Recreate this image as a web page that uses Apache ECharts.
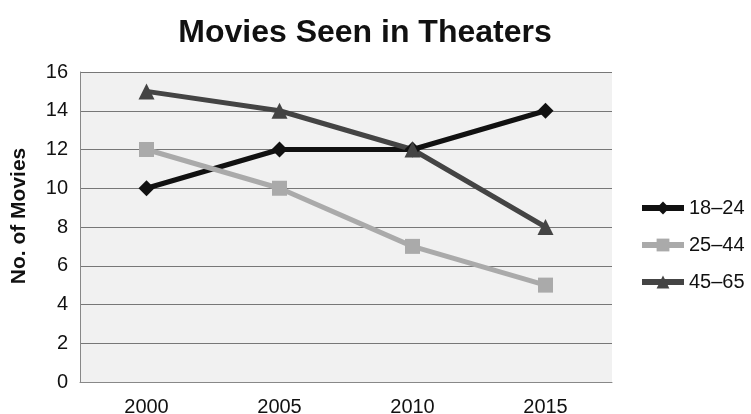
<!DOCTYPE html>
<html>
<head>
<meta charset="utf-8">
<script src="https://cdn.jsdelivr.net/npm/echarts@6/dist/echarts.min.js"></script>
<style>
  html, body { margin: 0; padding: 0; background: #fff; }
  #main { width: 751px; height: 414px; }
</style>
</head>
<body>
<div id="main"></div>
<script>
var years = ['2000', '2005', '2010', '2015'];
var age18to24 = [10, 12, 12, 14];
var age25to44 = [12, 10, 7, 5];
var age45to65 = [15, 14, 12, 8];

var myChart = echarts.init(document.getElementById('main'));

function line(name, data, color, symbol, size) {
    return {
        name: name,
        type: 'line',
        data: data,
        symbol: symbol,
        symbolSize: size,
        lineStyle: { color: color, width: 5 },
        itemStyle: { color: color },
        z: 3
    };
}

var option = {
    textStyle: { fontFamily: 'Liberation Sans, Arial, sans-serif' },
    title: {
        text: 'Movies Seen in Theaters',
        left: 360,
        textAlign: 'center',
        top: 12,
        textStyle: { fontSize: 32, fontWeight: 'bold', color: '#111' }
    },
    legend: {
        orient: 'vertical',
        left: 634,
        top: 193,
        itemGap: 17,
        itemWidth: 42,
        itemHeight: 16,
        textStyle: { fontSize: 20, color: '#111' },
        lineStyle: { width: 6 },
        data: ['18–24', '25–44', '45–65']
    },
    grid: {
        left: 80,
        right: 139,
        top: 72,
        bottom: 32,
        outerBoundsMode: 'none',
        show: true,
        backgroundColor: '#f1f1f1',
        borderWidth: 0
    },
    xAxis: {
        type: 'category',
        data: years,
        boundaryGap: true,
        axisTick: { show: false },
        axisLine: { show: true, lineStyle: { color: '#888', width: 1 } },
        axisLabel: { fontSize: 20, color: '#111', margin: 15 }
    },
    yAxis: {
        type: 'value',
        min: 0,
        max: 16,
        interval: 2,
        name: 'No. of Movies',
        nameLocation: 'middle',
        nameGap: 50,
        nameTextStyle: { fontSize: 21, fontWeight: 'bold', color: '#111', padding: [0, 0, 0, 22] },
        axisLine: { show: true, lineStyle: { color: '#888' } },
        axisTick: { show: false },
        axisLabel: { fontSize: 20, color: '#111', margin: 12 },
        splitLine: { lineStyle: { color: '#777', width: 1.2 } }
    },
    series: [
        line('18–24', age18to24, '#111111', 'diamond', 16),
        line('25–44', age25to44, '#aaaaaa', 'rect', 15),
        line('45–65', age45to65, '#444444', 'triangle', 16)
    ]
};
myChart.setOption(option);
</script>
</body>
</html>
